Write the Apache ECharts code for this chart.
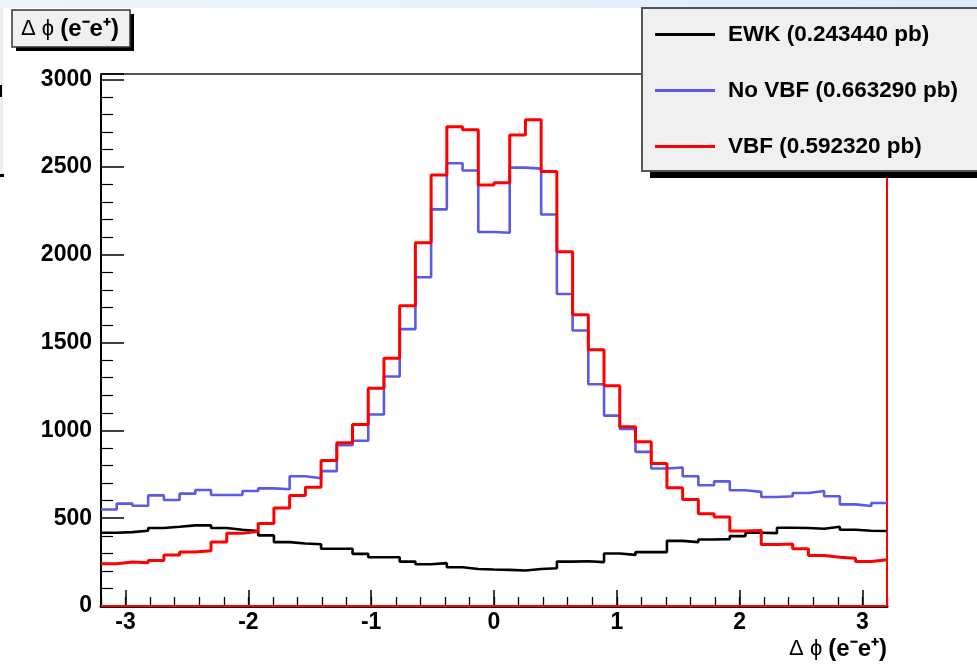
<!DOCTYPE html>
<html>
<head>
<meta charset="utf-8">
<script src="https://cdn.jsdelivr.net/npm/echarts@6/dist/echarts.min.js"></script>
<style>
html,body{margin:0;padding:0;background:#fff;}
#chart{width:977px;height:665px;}
</style>
</head>
<body>
<div id="chart"></div>
<script>
// Histogram binning (Delta phi range)
const BIN_LO = -3.2;
const BIN_HI = 3.2;

// Series values, one per bin (50 bins)
const ewk = [417,421,429,444,451,459,460,444,434,427,402,364,356,352,326,326,297,278,278,253,238,244,221,211,208,
             206,202,211,215,253,255,250,299,291,307,307,371,364,379,381,398,417,415,446,444,440,451,434,429,427];
const noVbf = [550,583,571,630,604,640,661,632,632,655,670,665,739,728,768,916,941,1091,1307,1577,1872,2259,2522,2480,2130,
               2126,2497,2491,2230,1777,1569,1263,1084,1008,878,783,789,739,688,710,659,650,621,625,644,655,625,579,570,587];
const vbf = [240,250,246,259,291,307,314,364,415,425,470,558,630,676,829,930,1034,1240,1411,1710,2069,2455,2730,2712,2398,
             2411,2682,2770,2474,2017,1659,1459,1255,1021,935,811,674,606,526,507,427,430,350,353,326,288,278,272,253,263];

const seriesNames = ['EWK (0.243440 pb)', 'No VBF (0.663290 pb)', 'VBF (0.592320 pb)'];
const seriesColors = ['#000000', '#5a5ae6', '#ff0000'];
const yTicks = [0, 500, 1000, 1500, 2000, 2500, 3000];
const xTicks = [-3, -2, -1, 0, 1, 2, 3];
const X_MINOR_STEP = 0.2;
const Y_MAX = 3030;
const TITLE_RICH = '{g|\u0394 \u03d5 }{b|(e\u207be\u207a)}';

function stepData(vals) {
  const w = (BIN_HI - BIN_LO) / vals.length;
  const pts = vals.map((v, i) => [BIN_LO + i * w, v]);
  pts.push([BIN_HI, vals[vals.length - 1]]);
  return pts;
}

const FONT = 'Liberation Sans, Arial, Helvetica, sans-serif';
const richStyles = {
  g: {fontFamily: FONT, fontSize: 22, fontWeight: 'normal', color: '#000'},
  b: {fontFamily: FONT, fontSize: 24, fontWeight: 'bold', color: '#000'}
};
const chart = echarts.init(document.getElementById('chart'), null, {renderer: 'canvas'});

const histos = [ewk, noVbf, vbf].map((vals, i) => ({
  name: seriesNames[i],
  type: 'line',
  step: 'end',
  symbol: 'none',
  data: stepData(vals),
  color: seriesColors[i],
  lineStyle: {color: seriesColors[i], width: i === 2 ? 3 : 2.6},
  z: 2,
  animation: false
}));
histos[2].markLine = {
  silent: true,
  symbol: 'none',
  z: 2,
  label: {show: false},
  lineStyle: {color: '#ff0000', width: 2, type: 'solid'},
  data: [{yAxis: 0}, {xAxis: BIN_HI}],
  animation: false
};

const option = {
  animation: false,
  backgroundColor: '#ffffff',
  graphic: [
    {type: 'rect', shape: {x: 0, y: 0, width: 977, height: 8},
     style: {fill: new echarts.graphic.LinearGradient(0, 0, 1, 0, [{offset: 0, color: '#eef6fc'}, {offset: 1, color: '#dcecf9'}])}, z: 0},
    {type: 'rect', shape: {x: 0, y: 8, width: 3, height: 170}, style: {fill: '#eeeeee'}, z: 0},
    {type: 'rect', shape: {x: 0, y: 85, width: 2, height: 12}, style: {fill: '#000'}, z: 0},
    {type: 'rect', shape: {x: 0, y: 174, width: 4, height: 3}, style: {fill: '#000'}, z: 0},
    // legend shadow
    {type: 'rect', shape: {x: 650, y: 14, width: 400, height: 164}, style: {fill: '#000'}, z: 3},
    // title box
    {type: 'rect', shape: {x: 16, y: 14, width: 118, height: 37}, style: {fill: '#000'}, z: 5},
    {type: 'rect', shape: {x: 12, y: 10, width: 118, height: 37}, style: {fill: '#f0f0f0', stroke: '#333', lineWidth: 1.5}, z: 6},
    {type: 'text', x: 21, y: 29, z: 7,
     style: {text: TITLE_RICH, verticalAlign: 'middle', align: 'left', rich: richStyles}}
  ],
  legend: {
    orient: 'vertical',
    left: 642,
    top: 8,
    padding: [15, 60, 13, 13],
    itemGap: 33,
    itemWidth: 60,
    itemHeight: 3,
    icon: 'rect',
    backgroundColor: '#f0f0f0',
    borderColor: '#555',
    borderWidth: 2,
    borderRadius: 0,
    z: 4,
    textStyle: {fontFamily: FONT, fontSize: 22.5, fontWeight: 'bold', color: '#000', padding: [0, 0, 0, 8]},
    data: seriesNames,
    selectedMode: false
  },
  grid: {left: 101, right: 90, top: 74, bottom: 59, containLabel: false},
  xAxis: [{
    type: 'value',
    position: 'bottom',
    min: BIN_LO,
    max: BIN_HI,
    interval: X_MINOR_STEP,
    axisLine: {show: true, onZero: false, lineStyle: {color: '#000', width: 3}},
    axisTick: {show: true, inside: true, length: 9, lineStyle: {color: '#000', width: 1.3}},
    splitLine: {show: false},
    axisLabel: {
      customValues: xTicks,
      margin: 5,
      fontFamily: FONT, fontSize: 23, fontWeight: 'bold', color: '#000',
      formatter: v => String(Math.round(v))
    },
    name: TITLE_RICH,
    nameLocation: 'end',
    nameGap: 0,
    nameTextStyle: {
      align: 'right',
      verticalAlign: 'top',
      padding: [31, 0, 0, 0],
      rich: richStyles
    }
  }, {
    type: 'value',
    position: 'bottom',
    offset: 0,
    min: BIN_LO,
    max: BIN_HI,
    axisLine: {show: false, onZero: false},
    axisTick: {show: true, inside: true, length: 16, customValues: xTicks, lineStyle: {color: '#000', width: 1.5}},
    axisLabel: {show: false},
    splitLine: {show: false}
  }, {
    type: 'value',
    position: 'top',
    min: BIN_LO,
    max: BIN_HI,
    axisLine: {show: true, onZero: false, lineStyle: {color: '#555', width: 2}},
    axisTick: {show: false},
    axisLabel: {show: false},
    splitLine: {show: false}
  }],
  yAxis: [{
    type: 'value',
    position: 'left',
    min: 0,
    max: Y_MAX,
    interval: 500,
    axisLine: {show: true, onZero: false, lineStyle: {color: '#000', width: 2}},
    axisTick: {show: true, inside: true, length: 23, lineStyle: {color: '#000', width: 1.5}},
    minorTick: {show: true, splitNumber: 5, length: 12, lineStyle: {color: '#000', width: 1.2}},
    splitLine: {show: false},
    axisLabel: {
      margin: 9,
      fontFamily: FONT, fontSize: 23, fontWeight: 'bold', color: '#000',
      formatter: v => (yTicks.indexOf(v) >= 0 ? String(v) : '')
    }
  }],
  series: histos
};
chart.setOption(option);
</script>
</body>
</html>
